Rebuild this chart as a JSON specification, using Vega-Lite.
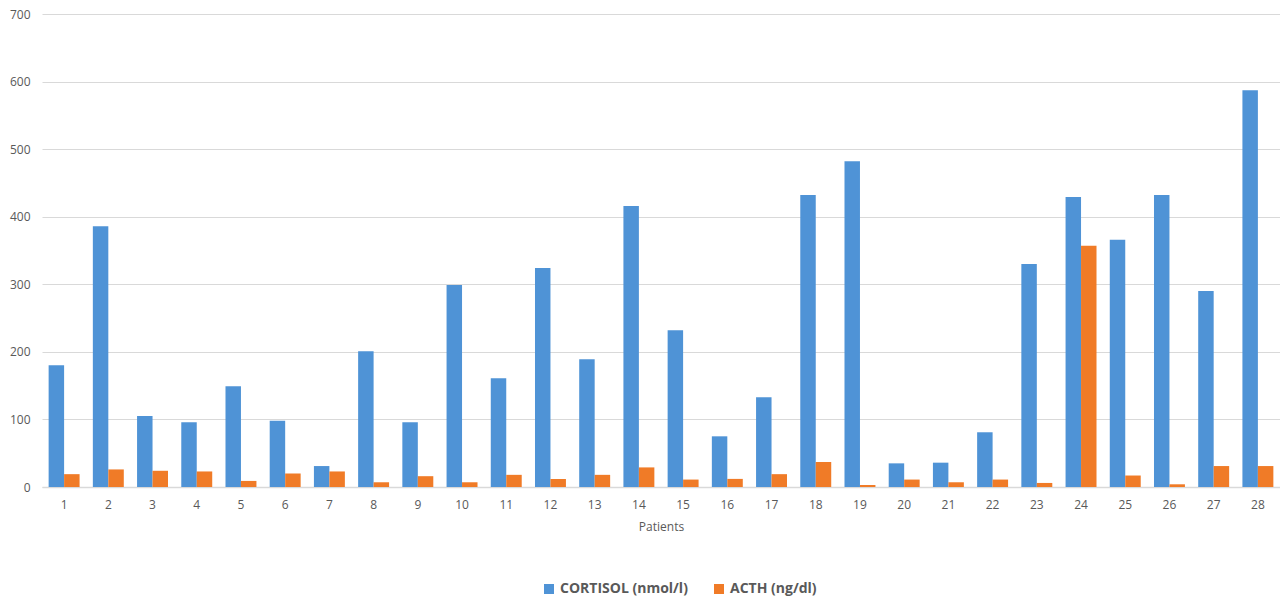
{
  "$schema": "https://vega.github.io/schema/vega-lite/v6.json",
  "autosize": {"type": "none"},
  "width": 1238,
  "height": 473,
  "padding": {"left": 42, "top": 14, "right": 0, "bottom": 111},
  "background": "white",
  "data": {
    "values": [
      {"patient": 1, "measure": "CORTISOL (nmol/l)", "value": 180},
      {"patient": 1, "measure": "ACTH (ng/dl)", "value": 19},
      {"patient": 2, "measure": "CORTISOL (nmol/l)", "value": 386},
      {"patient": 2, "measure": "ACTH (ng/dl)", "value": 26},
      {"patient": 3, "measure": "CORTISOL (nmol/l)", "value": 105},
      {"patient": 3, "measure": "ACTH (ng/dl)", "value": 24},
      {"patient": 4, "measure": "CORTISOL (nmol/l)", "value": 96},
      {"patient": 4, "measure": "ACTH (ng/dl)", "value": 23},
      {"patient": 5, "measure": "CORTISOL (nmol/l)", "value": 149},
      {"patient": 5, "measure": "ACTH (ng/dl)", "value": 9},
      {"patient": 6, "measure": "CORTISOL (nmol/l)", "value": 98},
      {"patient": 6, "measure": "ACTH (ng/dl)", "value": 20},
      {"patient": 7, "measure": "CORTISOL (nmol/l)", "value": 31},
      {"patient": 7, "measure": "ACTH (ng/dl)", "value": 23},
      {"patient": 8, "measure": "CORTISOL (nmol/l)", "value": 201},
      {"patient": 8, "measure": "ACTH (ng/dl)", "value": 7},
      {"patient": 9, "measure": "CORTISOL (nmol/l)", "value": 96},
      {"patient": 9, "measure": "ACTH (ng/dl)", "value": 16},
      {"patient": 10, "measure": "CORTISOL (nmol/l)", "value": 299},
      {"patient": 10, "measure": "ACTH (ng/dl)", "value": 7},
      {"patient": 11, "measure": "CORTISOL (nmol/l)", "value": 161},
      {"patient": 11, "measure": "ACTH (ng/dl)", "value": 18},
      {"patient": 12, "measure": "CORTISOL (nmol/l)", "value": 324},
      {"patient": 12, "measure": "ACTH (ng/dl)", "value": 12},
      {"patient": 13, "measure": "CORTISOL (nmol/l)", "value": 189},
      {"patient": 13, "measure": "ACTH (ng/dl)", "value": 18},
      {"patient": 14, "measure": "CORTISOL (nmol/l)", "value": 416},
      {"patient": 14, "measure": "ACTH (ng/dl)", "value": 29},
      {"patient": 15, "measure": "CORTISOL (nmol/l)", "value": 232},
      {"patient": 15, "measure": "ACTH (ng/dl)", "value": 11},
      {"patient": 16, "measure": "CORTISOL (nmol/l)", "value": 75},
      {"patient": 16, "measure": "ACTH (ng/dl)", "value": 12},
      {"patient": 17, "measure": "CORTISOL (nmol/l)", "value": 133},
      {"patient": 17, "measure": "ACTH (ng/dl)", "value": 19},
      {"patient": 18, "measure": "CORTISOL (nmol/l)", "value": 432},
      {"patient": 18, "measure": "ACTH (ng/dl)", "value": 37},
      {"patient": 19, "measure": "CORTISOL (nmol/l)", "value": 482},
      {"patient": 19, "measure": "ACTH (ng/dl)", "value": 3},
      {"patient": 20, "measure": "CORTISOL (nmol/l)", "value": 35},
      {"patient": 20, "measure": "ACTH (ng/dl)", "value": 11},
      {"patient": 21, "measure": "CORTISOL (nmol/l)", "value": 36},
      {"patient": 21, "measure": "ACTH (ng/dl)", "value": 7},
      {"patient": 22, "measure": "CORTISOL (nmol/l)", "value": 81},
      {"patient": 22, "measure": "ACTH (ng/dl)", "value": 11},
      {"patient": 23, "measure": "CORTISOL (nmol/l)", "value": 330},
      {"patient": 23, "measure": "ACTH (ng/dl)", "value": 6},
      {"patient": 24, "measure": "CORTISOL (nmol/l)", "value": 429},
      {"patient": 24, "measure": "ACTH (ng/dl)", "value": 357},
      {"patient": 25, "measure": "CORTISOL (nmol/l)", "value": 366},
      {"patient": 25, "measure": "ACTH (ng/dl)", "value": 17},
      {"patient": 26, "measure": "CORTISOL (nmol/l)", "value": 432},
      {"patient": 26, "measure": "ACTH (ng/dl)", "value": 4},
      {"patient": 27, "measure": "CORTISOL (nmol/l)", "value": 290},
      {"patient": 27, "measure": "ACTH (ng/dl)", "value": 31},
      {"patient": 28, "measure": "CORTISOL (nmol/l)", "value": 587},
      {"patient": 28, "measure": "ACTH (ng/dl)", "value": 31}
    ]
  },
  "mark": {"type": "bar"},
  "encoding": {
    "x": {
      "field": "patient",
      "type": "ordinal",
      "title": "Patients",
      "scale": {"paddingInner": 0.3, "paddingOuter": 0.15},
      "axis": {
        "labelAngle": 0,
        "ticks": false,
        "domainColor": "#d9d9d9",
        "domainWidth": 1.5,
        "labelPadding": 12,
        "labelFontSize": 12,
        "labelColor": "#595959",
        "titleFontSize": 12,
        "titleFontWeight": "normal",
        "titleColor": "#595959",
        "titlePadding": 11
      }
    },
    "xOffset": {
      "field": "measure",
      "sort": ["CORTISOL (nmol/l)", "ACTH (ng/dl)"]
    },
    "y": {
      "field": "value",
      "type": "quantitative",
      "title": null,
      "scale": {"domain": [0, 700], "nice": false},
      "axis": {
        "values": [0, 100, 200, 300, 400, 500, 600, 700],
        "domain": false,
        "ticks": false,
        "labelPadding": 12,
        "labelFontSize": 12,
        "labelColor": "#595959",
        "gridColor": "#d9d9d9"
      }
    },
    "color": {
      "field": "measure",
      "type": "nominal",
      "title": null,
      "sort": ["CORTISOL (nmol/l)", "ACTH (ng/dl)"],
      "scale": {
        "domain": ["CORTISOL (nmol/l)", "ACTH (ng/dl)"],
        "range": ["#4f93d6", "#f07b27"]
      },
      "legend": {
        "orient": "none",
        "direction": "horizontal",
        "legendX": 500,
        "legendY": 568,
        "symbolType": "square",
        "symbolSize": 100,
        "symbolStrokeWidth": 0,
        "labelFontSize": 14,
        "labelFontWeight": "bold",
        "labelColor": "#595959",
        "columnPadding": 24
      }
    }
  },
  "config": {
    "font": "Open Sans",
    "view": {"stroke": null}
  }
}
